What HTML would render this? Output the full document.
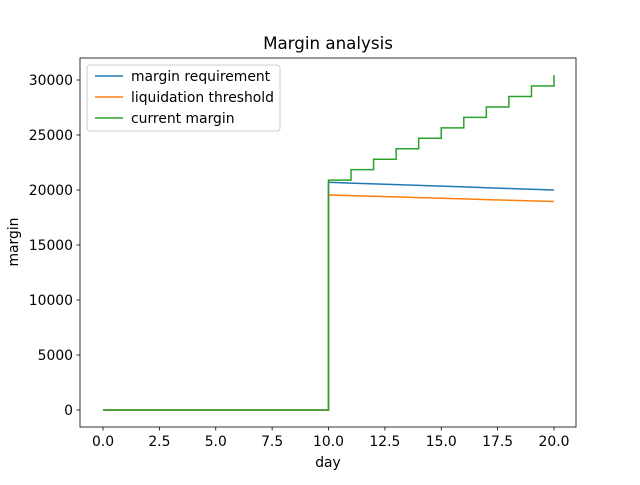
<!DOCTYPE html>
<html><head><meta charset="utf-8"><style>
body{margin:0;background:#fff;font-family:"Liberation Sans","DejaVu Sans",sans-serif;}
svg text{font-family:"DejaVu Sans","Liberation Sans",sans-serif;}
</style></head><body>
<svg id="chart" width="640" height="480" xmlns="http://www.w3.org/2000/svg">
<rect width="640" height="480" fill="#fff"/>
<text x="328" y="49" font-size="16.7" text-anchor="middle">Margin analysis</text>
<g id="plot"></g>
<rect x="80" y="58" width="496" height="369" fill="none" stroke="#000" stroke-width="0.8"/>
<text x="328" y="467" font-size="13.9" text-anchor="middle">day</text>
<text x="18" y="242" font-size="13.9" text-anchor="middle" transform="rotate(-90 18 242)">margin</text>
<g>
<rect x="87" y="65" width="193" height="66" fill="#fff" fill-opacity="0.8" stroke="#ccc" rx="3"/>
<line x1="95" y1="76" x2="123" y2="76" stroke="#1f77b4" stroke-width="1.5"/>
<text x="131" y="81" font-size="13.9">margin requirement</text>
<line x1="95" y1="97" x2="123" y2="97" stroke="#ff7f0e" stroke-width="1.5"/>
<text x="131" y="102" font-size="13.9">liquidation threshold</text>
<line x1="95" y1="118" x2="123" y2="118" stroke="#2ca02c" stroke-width="1.5"/>
<text x="131" y="123" font-size="13.9">current margin</text>
</g>
</svg>
<script>
const days=[0,1,2,3,4,5,6,7,8,9,10,11,12,13,14,15,16,17,18,19,20];
const marginReq=[0,0,0,0,0,0,0,0,0,0,20700,20630,20560,20490,20420,20350,20280,20210,20140,20070,20000];
const liqThresh=[0,0,0,0,0,0,0,0,0,0,19550,19490,19430,19370,19310,19250,19190,19130,19070,19010,18950];
const curMargin=[0,0,0,0,0,0,0,0,0,0,20900,21850,22800,23750,24700,25650,26600,27550,28500,29450,30450];
const xTicks=[0,2.5,5,7.5,10,12.5,15,17.5,20];
const xTickLabels=["0.0","2.5","5.0","7.5","10.0","12.5","15.0","17.5","20.0"];
const yTicks=[0,5000,10000,15000,20000,25000,30000];
const yTickLabels=["0","5000","10000","15000","20000","25000","30000"];
const sx=v=>103+v*(554-103)/20;
const sy=v=>410-v*(410-80)/30000;
const NS="http://www.w3.org/2000/svg";
const g=document.getElementById('plot');
function mk(t,a){const e=document.createElementNS(NS,t);for(const k in a)e.setAttribute(k,a[k]);return e;}
xTicks.forEach((t,i)=>{
 const l=mk('line',{x1:sx(t),x2:sx(t),y1:427,y2:430.5,stroke:'#000','stroke-width':0.8});
 
 
 g.appendChild(l);
 const tx=mk('text',{x:sx(t),y:446,'font-size':13.9,'text-anchor':'middle'});
 tx.textContent=xTickLabels[i];
 
 
 g.appendChild(tx);
});
yTicks.forEach((t,i)=>{
 const l=mk('line',{x1:76.5,x2:80,y1:sy(t),y2:sy(t),stroke:'#000','stroke-width':0.8});
 
 
 g.appendChild(l);
 const tx=mk('text',{x:73,y:sy(t)+5,'font-size':13.9,'text-anchor':'end'});
 tx.textContent=yTickLabels[i];
 
 
 g.appendChild(tx);
});
function stepPath(vals){
 let d='M'+sx(days[0])+','+sy(vals[0]);
 for(let i=1;i<days.length;i++){d+=' L'+sx(days[i])+','+sy(vals[i-1])+' L'+sx(days[i])+','+sy(vals[i]);}
 return d;
}
function linePath(vals){
 let d='M'+sx(days[0])+','+sy(vals[0]);
 for(let i=1;i<days.length;i++){
  if(vals[i-1]===0&&vals[i]!==0){d+=' L'+sx(days[i])+','+sy(0);}
  d+=' L'+sx(days[i])+','+sy(vals[i]);
 }
 return d;
}
[[linePath(marginReq),'#1f77b4','line-margin-requirement'],[linePath(liqThresh),'#ff7f0e','line-liquidation-threshold'],[stepPath(curMargin),'#2ca02c','line-current-margin']].forEach(s=>{
 const p=mk('path',{d:s[0],fill:'none',stroke:s[1],'stroke-width':1.5});
 
 
 g.appendChild(p);
});
</script>
</body></html>
